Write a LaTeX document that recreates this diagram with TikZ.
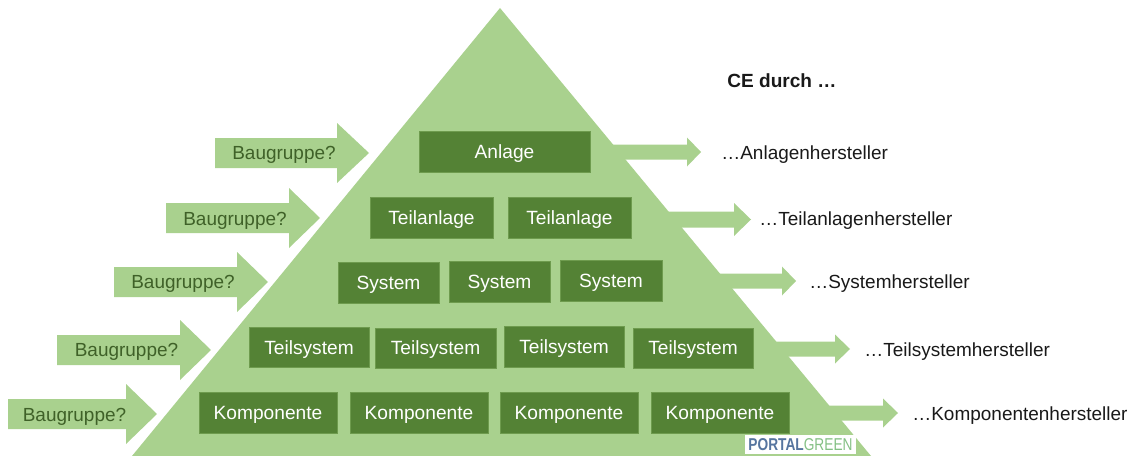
\documentclass[tikz,border=0pt]{standalone}
\usepackage{fontspec}
\setmainfont{Liberation Sans}
\definecolor{lightgreen}{HTML}{A9D18E}
\definecolor{darkgreen}{HTML}{548235}
\definecolor{boxline}{HTML}{6E9B4E}
\definecolor{labelgreen}{HTML}{3F6128}
\definecolor{logoblue}{HTML}{56759F}
\definecolor{logogreen}{HTML}{84C084}
\tikzset{
	box/.style={fill=darkgreen,draw=boxline,line width=.4pt,text=white,inner sep=0pt,outer sep=0pt,text height=7.8pt,text depth=0pt,font=\fontsize{10.9}{12}\selectfont},
	guess/.style={text=labelgreen,inner sep=0pt,text height=7.8pt,text depth=0pt,font=\fontsize{10.8}{12}\selectfont},
	maker/.style={anchor=west,text=black!90,inner sep=0pt,text height=7.8pt,text depth=0pt,font=\fontsize{10.8}{12}\selectfont}
}
\begin{document}
\begin{tikzpicture}[x=.02cm,y=-.02cm]
			\useasboundingbox (0,0) rectangle (1132,456);
			\coordinate (top) at (500,8);
			\coordinate (left) at (132,456);
			\coordinate (right) at (871,456);
			\fill[lightgreen] (top) -- (right) -- (left) -- cycle;
			% arrows on the left side
			\foreach \x/\y/\b/\t in {8/414/126/157,57/350/180/211,114/282/237/268,166/218/289/320,215/153/337/369}{
				\fill[lightgreen] (\x,\y-15) -- (\b,\y-15) -- (\b,\y-30) -- (\t,\y) -- (\b,\y+30) -- (\b,\y+15) -- (\x,\y+15) -- cycle;
			}
			% arrows on the right side
			\foreach \x/\y/\s/\h/\l in {701/152/7.5/14.5/14,751/219.5/8/16.5/17,796/281/7.5/14.5/14,850/349/7.5/14.5/15,898/413/7.5/14.5/15}{
				\fill[lightgreen] (\x-110,\y-\s) -- (\x-\l,\y-\s) -- (\x-\l,\y-\h) -- (\x,\y) -- (\x-\l,\y+\h) -- (\x-\l,\y+\s) -- (\x-110,\y+\s) -- cycle;
			}
			\foreach \name/\x/\y/\w/\h/\txt in {
				anlage/504.5/151.5/171/41/Anlage,
				teilanlageA/431.5/217.5/123/41/Teilanlage,
				teilanlageB/569.5/217.5/123/41/Teilanlage,
				systemA/388.5/282.5/101/41/System,
				systemB/499.5/281.5/101/41/System,
				systemC/611/280.5/102/41/System,
				teilsystemA/309/347.5/120/40/Teilsystem,
				teilsystemB/435.5/348/121/40/Teilsystem,
				teilsystemC/564/346.5/120/41/Teilsystem,
				teilsystemD/693/348/120/40/Teilsystem,
				komponenteA/268/412.5/138/41/Komponente,
				komponenteB/419/412.5/138/41/Komponente,
				komponenteC/569/412.5/138/41/Komponente,
				komponenteD/720/412.5/138/41/Komponente}{
				\node[box,minimum width=\w*.02cm,minimum height=\h*.02cm] (\name) at (\x,\y) {\txt};
			}
			\foreach \name/\x/\y in {guessA/74.5/414.5,guessB/126.5/350,guessC/183/282,guessD/235/219,guessE/284/153}{
				\node[guess] (\name) at (\x,\y) {Baugruppe?};
			}
			\node[maker] (makerA) at (721,152.5) {…Anlagenhersteller};
			\node[maker] (makerB) at (759,219) {…Teilanlagenhersteller};
			\node[maker] (makerC) at (809,281.5) {…Systemhersteller};
			\node[maker] (makerD) at (864,349.5) {…Teilsystemhersteller};
			\node[maker] (makerE) at (912,414) {…Komponentenhersteller};
			\node[maker,font=\fontsize{10.85}{12}\selectfont\bfseries] (title) at (727,81) {CE durch …};
			\node[fill=white,inner sep=0pt,minimum width=111*.02cm,minimum height=19*.02cm,font=\fontsize{7.8}{10}\selectfont] (logo) at (800.5,444.5) {\scalebox{1}[1.25]{\textcolor{logoblue}{\textbf{PORTAL}}\textcolor{logogreen}{GREEN}}};
		\end{tikzpicture}
\end{document}
